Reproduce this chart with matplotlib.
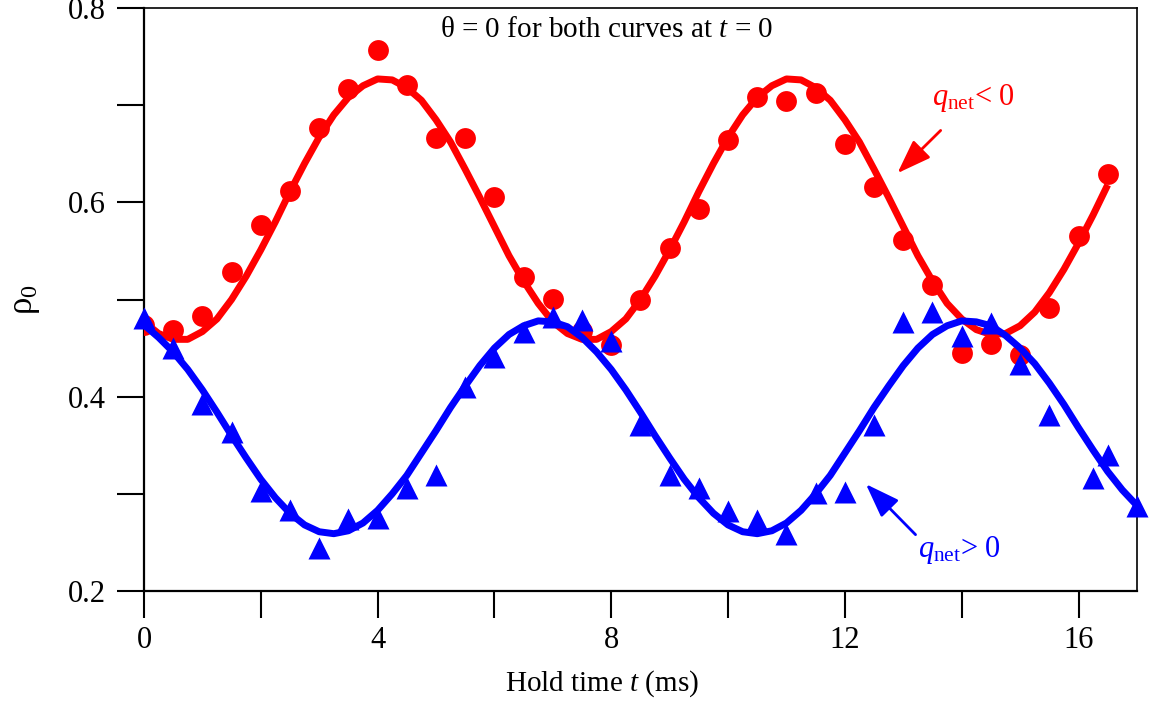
import matplotlib
matplotlib.use("Agg")
import matplotlib.pyplot as plt
import numpy as np

# ---------------- data ----------------
red_t = [0, 0.5, 1, 1.5, 2, 2.5, 3, 3.5, 4, 4.5, 5, 5.5, 6, 6.5, 7, 7.5, 8, 8.5,
         9, 9.5, 10, 10.5, 11, 11.5, 12, 12.5, 13, 13.5, 14, 14.5, 15, 15.5, 16, 16.5]
red_rho = [0.474, 0.469, 0.483, 0.528, 0.577, 0.612, 0.677, 0.717, 0.757, 0.721,
           0.666, 0.666, 0.605, 0.523, 0.501, 0.468, 0.453, 0.500, 0.553, 0.593,
           0.664, 0.708, 0.704, 0.713, 0.660, 0.616, 0.561, 0.515, 0.445, 0.454,
           0.443, 0.491, 0.565, 0.629]

blue_t = [0, 0.5, 1, 1.5, 2, 2.5, 3, 3.5, 4, 4.5, 5, 5.5, 6, 6.5, 7, 7.5, 8, 8.5,
          9, 9.5, 10, 10.5, 11, 11.5, 12, 12.5, 13, 13.5, 14, 14.5, 15, 15.5,
          16.25, 16.5, 17]
blue_rho = [0.481, 0.450, 0.392, 0.364, 0.303, 0.283, 0.244, 0.274, 0.275, 0.306,
            0.319, 0.410, 0.441, 0.467, 0.482, 0.479, 0.457, 0.371, 0.319, 0.306,
            0.282, 0.273, 0.259, 0.301, 0.302, 0.371, 0.477, 0.487, 0.462, 0.476,
            0.434, 0.381, 0.316, 0.340, 0.287]

# fit curves, every 0.25 ms
red_fit_t = [i * 0.25 for i in range(67)]          # 0 .. 16.5
red_fit = [0.477, 0.465, 0.459, 0.459, 0.467, 0.480, 0.500, 0.524, 0.551, 0.580,
           0.611, 0.640, 0.667, 0.690, 0.708, 0.720, 0.727, 0.726, 0.718, 0.705,
           0.685, 0.662, 0.634, 0.605, 0.575, 0.545, 0.519, 0.496,
           0.477, 0.465, 0.459, 0.459, 0.467, 0.480, 0.500, 0.524, 0.551, 0.580,
           0.611, 0.640, 0.667, 0.690, 0.708, 0.720, 0.727, 0.726, 0.718, 0.705,
           0.685, 0.662, 0.634, 0.605, 0.575, 0.545, 0.519, 0.496,
           0.480, 0.469, 0.464, 0.465, 0.473, 0.487, 0.507, 0.531, 0.558, 0.587,
           0.618]

blue_fit_t = [i * 0.25 for i in range(69)]         # 0 .. 17
blue_fit = [0.474, 0.461, 0.446, 0.428, 0.407, 0.384, 0.360, 0.337, 0.315, 0.296,
            0.280, 0.268, 0.261, 0.259, 0.262, 0.270, 0.283, 0.300, 0.319, 0.342,
            0.365, 0.389, 0.411, 0.432, 0.450, 0.464, 0.473, 0.478, 0.477,
            0.472, 0.461, 0.446, 0.428, 0.407, 0.384, 0.360, 0.337, 0.315, 0.296,
            0.280, 0.268, 0.261, 0.259, 0.262, 0.270, 0.283, 0.300, 0.319, 0.342,
            0.365, 0.389, 0.411, 0.432, 0.450, 0.464, 0.473, 0.478, 0.477,
            0.473, 0.463, 0.450, 0.434, 0.414, 0.392, 0.368, 0.345, 0.323, 0.304,
            0.288]

x_ticks = [0, 2, 4, 6, 8, 10, 12, 14, 16]
x_ticklabels = ["0", "", "4", "", "8", "", "12", "", "16"]
y_ticks = [0.2, 0.3, 0.4, 0.5, 0.6, 0.7, 0.8]
y_ticklabels = ["0.2", "", "0.4", "", "0.6", "", "0.8"]

# ---------------- style ----------------
plt.rcParams["font.family"] = ["Liberation Serif", "DejaVu Serif"]
plt.rcParams["mathtext.fontset"] = "custom"
plt.rcParams["mathtext.rm"] = "Liberation Serif"
plt.rcParams["mathtext.it"] = "Liberation Serif:italic"
plt.rcParams["mathtext.bf"] = "Liberation Serif:bold"

RED = "#ff0000"
BLUE = "#0000ff"

fig = plt.figure(figsize=(11.6, 7.02), dpi=100)
ax = fig.add_axes([0.1241, 0.1581, 0.8560, 0.8305])

ax.plot(red_fit_t, red_fit, color=RED, lw=5.0, solid_joinstyle="round",
        solid_capstyle="butt", zorder=2)
ax.plot(red_t, red_rho, "o", color=RED, ms=15, mec="none", zorder=3)
ax.plot(blue_fit_t, blue_fit, color=BLUE, lw=5.0, solid_joinstyle="round",
        solid_capstyle="butt", zorder=4)
ax.plot(blue_t, blue_rho, "^", color=BLUE, ms=16, mec="none", zorder=5,
        clip_on=False)

ax.set_xlim(0, 17)
ax.set_ylim(0.2, 0.8)
ax.set_xticks(x_ticks)
ax.set_xticklabels(x_ticklabels)
ax.set_yticks(y_ticks)
ax.set_yticklabels(y_ticklabels)
ax.tick_params(axis="both", direction="out", length=19.5, width=1.5,
               labelsize=22, colors="black")
ax.tick_params(axis="x", pad=6)
ax.tick_params(axis="y", pad=8)
for s in ["left", "bottom"]:
    ax.spines[s].set_linewidth(1.6)
for s in ["right", "top"]:
    ax.spines[s].set_linewidth(1.2)

ax.set_xlabel(r"Hold time $t$ (ms)", fontsize=21)
ax.xaxis.set_label_coords(0.461, -0.133)
ax.set_ylabel(r"$\mathrm{ρ}_0$", fontsize=25)
ax.yaxis.set_label_coords(-0.103, 0.50)

ax.text(5.07, 0.777, r"θ = 0 for both curves at $t$ = 0", fontsize=21,
        ha="left", va="center")

ax.text(13.49, 0.707, r"$q_{\mathrm{net}}$< 0", color=RED, fontsize=22,
        ha="left", va="center")
ax.annotate("", xy=(12.90, 0.630), xytext=(13.64, 0.674),
            arrowprops=dict(arrowstyle="-|>,head_length=0.7,head_width=0.25",
                            color=RED, lw=2.0, mutation_scale=30,
                            shrinkA=0, shrinkB=0))

ax.text(13.26, 0.242, r"$q_{\mathrm{net}}$> 0", color=BLUE, fontsize=22,
        ha="left", va="center")
ax.annotate("", xy=(12.36, 0.310), xytext=(13.21, 0.258),
            arrowprops=dict(arrowstyle="-|>,head_length=0.7,head_width=0.25",
                            color=BLUE, lw=2.0, mutation_scale=30,
                            shrinkA=0, shrinkB=0))

fig.savefig("out.png", dpi=100)
